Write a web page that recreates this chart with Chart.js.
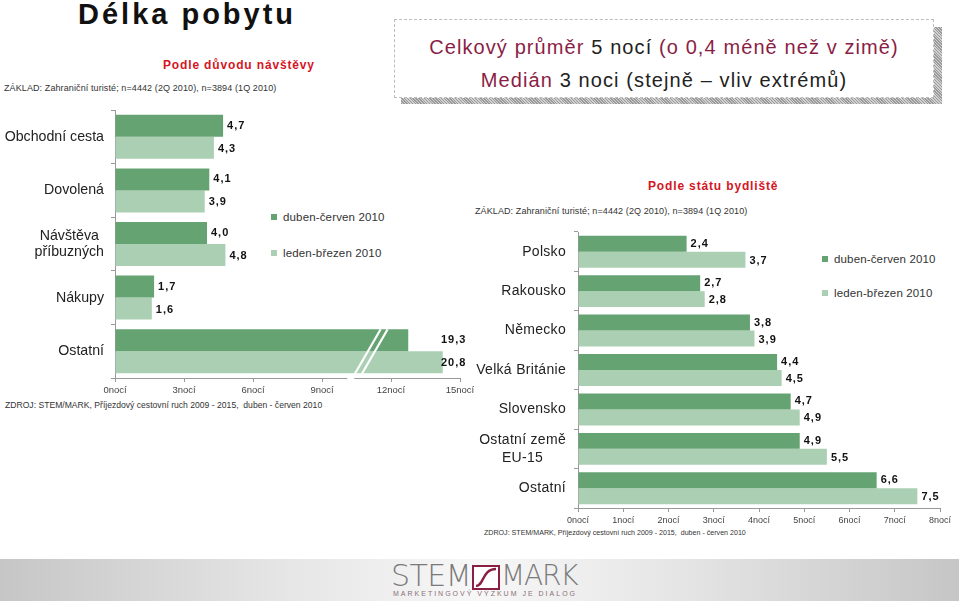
<!DOCTYPE html>
<html>
<head>
<meta charset="utf-8">
<script src="https://cdn.jsdelivr.net/npm/chart.js@4.4.1/dist/chart.umd.min.js"></script>
<style>
  body { margin: 0; width: 959px; height: 601px; overflow: hidden; background: #fff;
         font-family: "Liberation Sans", Arial, sans-serif; position: relative; }
  .abs { position: absolute; white-space: nowrap; }
  canvas { position: absolute; }
  .red { color: #d4161f; font-weight: bold; font-size: 12px; letter-spacing: 0.85px; }
  .base { font-size: 9px; color: #333; letter-spacing: 0.1px; }
  .src { color: #333; }
  .leg { font-size: 11.5px; color: #333; letter-spacing: 0.15px; }
  .sq { position: absolute; width: 6px; height: 6px; }
  .maroon { color: #8b1e45; }
  .box { font-size: 20px; line-height: 22px; color: #222; letter-spacing: 1.1px; text-align: center; }
</style>
</head>
<body>

<div class="abs" style="left:78px; top:0px; font-size:29px; line-height:29px; font-weight:bold; letter-spacing:3px; color:#111;">Délka pobytu</div>
<div class="abs red" style="left:163px; top:57px; line-height:16px;">Podle důvodu návštěvy</div>
<div class="abs base" style="left:4px; top:82px; line-height:12px;">ZÁKLAD: Zahraniční turisté; n=4442 (2Q 2010), n=3894 (1Q 2010)</div>

<!-- summary box -->
<div class="abs" style="left:401px; top:27px; width:541px; height:77px;
     background: repeating-linear-gradient(45deg, #9a9a9a 0 1px, #d0d0d0 1px 2px);"></div>
<div class="abs" style="left:394px; top:19px; width:538px; height:77px; background:#fff; border:1px dashed #bdbdbd;"></div>
<div class="abs box" style="left:394px; top:36px; width:540px;">
  <span class="maroon">Celkový průměr</span> 5 nocí <span class="maroon">(o 0,4 méně než v zimě)</span></div>
<div class="abs box" style="left:394px; top:69px; width:540px;">
  <span class="maroon">Medián</span> 3 noci (stejně – vliv extrémů)</div>

<!-- left legend -->
<div class="sq" style="left:271px; top:214px; background:#66a373;"></div>
<div class="abs leg" style="left:283px; top:210px; line-height:14px;">duben-červen 2010</div>
<div class="sq" style="left:271px; top:250px; background:#abcfb2;"></div>
<div class="abs leg" style="left:283px; top:246px; line-height:14px;">leden-březen 2010</div>

<div class="abs src" style="left:5px; top:400px; font-size:8.6px; line-height:10px;">ZDROJ: STEM/MARK, Příjezdový cestovní ruch 2009 - 2015,&nbsp; duben - červen 2010</div>

<div class="abs red" style="left:648px; top:178px; line-height:16px;">Podle státu bydliště</div>
<div class="abs base" style="left:475px; top:205px; line-height:12px;">ZÁKLAD: Zahraniční turisté; n=4442 (2Q 2010), n=3894 (1Q 2010)</div>

<!-- right legend -->
<div class="sq" style="left:822px; top:256px; background:#66a373;"></div>
<div class="abs leg" style="left:834px; top:252px; line-height:14px;">duben-červen 2010</div>
<div class="sq" style="left:822px; top:290px; background:#abcfb2;"></div>
<div class="abs leg" style="left:834px; top:286px; line-height:14px;">leden-březen 2010</div>

<div class="abs src" style="left:484px; top:529px; font-size:7.1px; line-height:9px;">ZDROJ: STEM/MARK, Příjezdový cestovní ruch 2009 - 2015,&nbsp; duben - červen 2010</div>

<!-- footer with logo -->
<div class="abs" style="left:0; top:559px; width:959px; height:42px;
     background: linear-gradient(to right, #c6c6c6 0%, #e6e6e6 30%, #f7f7f7 50%, #e6e6e6 70%, #c6c6c6 100%);"></div>
<div class="abs" style="left:391px; top:560px; font-family:'DejaVu Sans'; font-weight:200; font-size:30px; line-height:32px; color:#7a7a7a; letter-spacing:-0.5px;">STEM</div>
<svg class="abs" style="left:472px; top:565px;" width="28" height="25" viewBox="0 0 28 25">
  <rect x="1" y="1" width="26" height="23" fill="#fff" stroke="#8b1e45" stroke-width="2"/>
  <path d="M4 21 C 12 21, 10 4, 24 4" fill="none" stroke="#8b1e45" stroke-width="2.5"/>
</svg>
<div class="abs" style="left:501px; top:560px; font-family:'DejaVu Sans'; font-weight:200; font-size:28px; line-height:32px; color:#7a7a7a; letter-spacing:-1.2px;">MARK</div>
<div class="abs" style="left:393px; top:589px; font-size:7px; line-height:9px; color:#8a6f76; letter-spacing:2px;">MARKETINGOVÝ VÝZKUM JE DIALOG</div>

<canvas id="reason" width="480" height="300" style="left:0; top:105px;"></canvas>
<canvas id="country" width="499" height="310" style="left:460px; top:225px;"></canvas>

<script>
// data: length of stay (nights), Q2 2010 = duben-červen, Q1 2010 = leden-březen
const reasonCats = ['Obchodní cesta', 'Dovolená', ['Návštěva', 'příbuzných'], 'Nákupy', 'Ostatní'];
const reasonQ2 = [4.7, 4.1, 4.0, 1.7, 19.3];
const reasonQ1 = [4.3, 3.9, 4.8, 1.6, 20.8];
const reasonTicks = [0, 3, 6, 9, 12, 15];

const countryCats = ['Polsko', 'Rakousko', 'Německo', 'Velká Británie', 'Slovensko', ['Ostatní země', 'EU-15'], 'Ostatní'];
const countryQ2 = [2.4, 2.7, 3.8, 4.4, 4.7, 4.9, 6.6];
const countryQ1 = [3.7, 2.8, 3.9, 4.5, 4.9, 5.5, 7.5];
const countryTicks = [0, 1, 2, 3, 4, 5, 6, 7, 8];

const seriesNames = ['duben-červen 2010', 'leden-březen 2010'];
const DARK = '#66a373';
const LIGHT = '#abcfb2';

// left axis is broken: long bars are shortened by this many nights
const BREAK_AT = 10.5;
const BREAK_CUT = 6.55;
const shorten = v => v > BREAK_AT ? v - BREAK_CUT : v;
const fmt = v => v.toFixed(1).replace('.', ',');

Chart.defaults.font.family = '"Liberation Sans", Arial, sans-serif';
Chart.defaults.animation = false;

// category labels, right aligned block, lines centred inside it
const catLabels = {
  id: 'catLabels',
  afterDraw(chart, args, opts) {
    const ctx = chart.ctx;
    const yScale = chart.scales.y;
    ctx.save();
    ctx.font = opts.font;
    ctx.fillStyle = '#222';
    ctx.textAlign = 'center';
    ctx.textBaseline = 'middle';
    ctx.letterSpacing = opts.spacing || '0px';
    chart.data.labels.forEach((lab, i) => {
      const lines = Array.isArray(lab) ? lab : [lab];
      const w = Math.max(...lines.map(l => ctx.measureText(l).width));
      const cx = opts.right - w / 2;
      const cy = yScale.getPixelForTick(i);
      lines.forEach((l, j) => {
        ctx.fillText(l, cx, cy + (j - (lines.length - 1) / 2) * opts.lineHeight);
      });
    });
    ctx.restore();
  }
};

// value labels next to the bars
const valueLabels = {
  id: 'valueLabels',
  afterDatasetsDraw(chart, args, opts) {
    const ctx = chart.ctx;
    ctx.save();
    ctx.font = 'bold 11px "Liberation Sans", Arial, sans-serif';
    ctx.fillStyle = '#111';
    ctx.textAlign = 'left';
    ctx.textBaseline = 'middle';
    ctx.letterSpacing = '1px';
    chart.data.datasets.forEach((ds, d) => {
      chart.getDatasetMeta(d).data.forEach((bar, i) => {
        const v = ds.values[i];
        let x = bar.x + 4;
        if (opts.fixedX && v > BREAK_AT) x = opts.fixedX;
        ctx.fillText(fmt(v), x, bar.y + (d === 0 ? 0 : 1));
      });
    });
    ctx.restore();
  }
};

// white double slash + gap in the axis for the broken bars
const axisBreak = {
  id: 'axisBreak',
  afterDatasetsDraw(chart) {
    const ctx = chart.ctx;
    const xs = chart.scales.x;
    const ys = chart.scales.y;
    const bottom = chart.chartArea.bottom;
    const top = ys.getPixelForTick(reasonCats.length - 1) - ys.height / reasonCats.length * 0.41;
    ctx.save();
    ctx.fillStyle = '#fff';
    ctx.fillRect(xs.getPixelForValue(10.1), bottom - 2, 7, 5);
    ctx.strokeStyle = '#fff';
    ctx.lineWidth = 2.2;
    [0, 7].forEach(off => {
      ctx.beginPath();
      ctx.moveTo(xs.getPixelForValue(10.4) + off, bottom - 3);
      ctx.lineTo(xs.getPixelForValue(11.55) + off, top);
      ctx.stroke();
    });
    ctx.restore();
  }
};

function makeChart(id, cats, q2, q1, ticks, cfg) {
  return new Chart(document.getElementById(id), {
    type: 'bar',
    data: {
      labels: cats,
      datasets: [
        { label: seriesNames[0], data: q2.map(cfg.map), values: q2, backgroundColor: DARK },
        { label: seriesNames[1], data: q1.map(cfg.map), values: q1, backgroundColor: LIGHT }
      ]
    },
    options: {
      indexAxis: 'y',
      responsive: false,
      devicePixelRatio: 1,
      layout: { padding: cfg.padding },
      datasets: { bar: { categoryPercentage: cfg.catPct, barPercentage: 1 } },
      plugins: {
        legend: { display: false },
        tooltip: { enabled: false },
        catLabels: cfg.labels,
        valueLabels: { fixedX: cfg.fixedX }
      },
      scales: {
        x: {
          min: ticks[0],
          max: ticks[ticks.length - 1],
          afterBuildTicks: s => { s.ticks = ticks.map(v => ({ value: v })); },
          afterFit: s => { s.height = 22; },
          grid: { drawOnChartArea: false, tickLength: 4, color: '#999' },
          border: { color: '#999' },
          ticks: { padding: 3, color: '#444', font: { size: cfg.tickSize }, callback: v => v + 'nocí' }
        },
        y: {
          afterFit: s => { s.width = cfg.yWidth; },
          grid: { drawOnChartArea: false, tickLength: 4, color: '#999' },
          border: { color: '#999' },
          ticks: { display: false }
        }
      }
    },
    plugins: cfg.plugins
  });
}

makeChart('reason', reasonCats, reasonQ2, reasonQ1, reasonTicks, {
  map: shorten,
  padding: { top: 5, right: 20, bottom: 5, left: 0 },
  yWidth: 115,
  catPct: 0.82,
  tickSize: 9.5,
  fixedX: 441,
  labels: { font: '14.2px "Liberation Sans", Arial, sans-serif', right: 104, lineHeight: 16 },
  plugins: [catLabels, valueLabels, axisBreak]
});

makeChart('country', countryCats, countryQ2, countryQ1, countryTicks, {
  map: v => v,
  padding: { top: 7, right: 19, bottom: 5, left: 0 },
  yWidth: 118,
  catPct: 0.81,
  tickSize: 9,
  fixedX: null,
  labels: { font: '14px "Liberation Sans", Arial, sans-serif', right: 106, lineHeight: 18, spacing: '0.3px' },
  plugins: [catLabels, valueLabels]
});
</script>
</body>
</html>
